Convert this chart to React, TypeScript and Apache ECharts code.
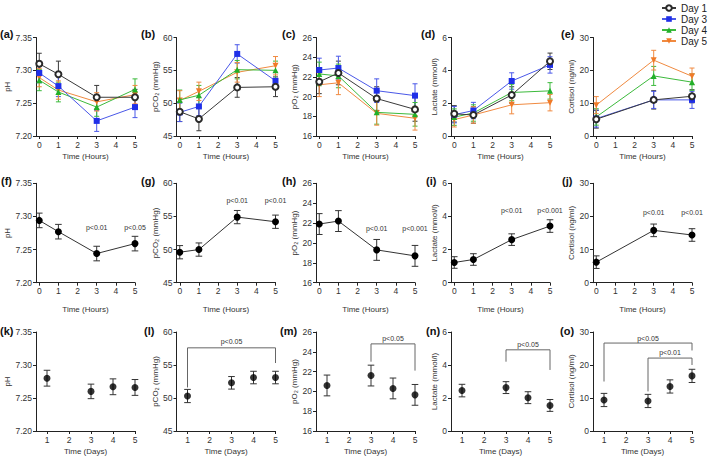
import React, { useEffect, useRef } from "react";
import * as echarts from "echarts";

// ---------- DATA ----------
const dayNames = ["Day 1", "Day 3", "Day 4", "Day 5"];
const hours = [0, 1, 3, 5];
const cortHours = [0, 3, 5];
const days = [1, 3, 4, 5];

// Row 1 (per day, by hour)
const phByDay = [
  [7.31, 7.294, 7.259, 7.259],
  [7.296, 7.276, 7.223, 7.244],
  [7.285, 7.267, 7.244, 7.271],
  [7.289, 7.27, 7.252, 7.263],
];
const phByDayErr = [
  [0.016, 0.02, 0.018, 0.012],
  [0.015, 0.016, 0.016, 0.016],
  [0.016, 0.015, 0.014, 0.016],
  [0.014, 0.014, 0.014, 0.014],
];
const pco2ByDay = [
  [48.7, 47.6, 52.4, 52.5],
  [48.6, 49.5, 57.5, 53.4],
  [50.5, 51.2, 55.1, 55.0],
  [50.4, 51.8, 54.7, 55.7],
];
const pco2ByDayErr = [
  [1.5, 1.8, 1.5, 1.5],
  [1.4, 1.4, 1.4, 1.3],
  [1.5, 1.5, 1.4, 1.4],
  [1.5, 1.4, 1.5, 1.4],
];
const po2ByDay = [
  [21.5, 22.4, 19.8, 18.7],
  [22.7, 22.9, 20.6, 20.1],
  [22.3, 22.1, 18.4, 18.2],
  [21.2, 21.4, 18.3, 17.8],
];
const po2ByDayErr = [
  [1.2, 1.2, 1.2, 1.2],
  [1.2, 1.2, 1.2, 1.2],
  [1.2, 1.2, 1.2, 1.2],
  [1.2, 1.2, 1.2, 1.2],
];
const lacByDay = [
  [1.35, 1.28, 2.5, 4.55],
  [1.3, 1.55, 3.35, 4.33],
  [1.15, 1.4, 2.65, 2.75],
  [1.0, 1.28, 1.9, 2.03],
];
const lacByDayErr = [
  [0.5, 0.5, 0.5, 0.5],
  [0.5, 0.5, 0.5, 0.5],
  [0.5, 0.5, 0.5, 0.5],
  [0.45, 0.5, 0.55, 0.5],
];
const cortByDay = [
  [5.1, 11.0, 12.1],
  [5.3, 11.0, 11.0],
  [5.8, 18.3, 16.4],
  [9.4, 23.1, 18.2],
];
const cortByDayErr = [
  [2.7, 2.8, 2.0],
  [2.6, 2.6, 2.6],
  [2.5, 2.9, 2.5],
  [2.6, 3.0, 2.5],
];

// Row 2 (pooled, by hour)
const phMean = [7.294, 7.277, 7.244, 7.259];
const phMeanErr = [0.011, 0.011, 0.011, 0.011];
const pco2Mean = [49.6, 50.0, 54.9, 54.2];
const pco2MeanErr = [1.0, 1.0, 1.0, 1.0];
const po2Mean = [21.9, 22.2, 19.3, 18.7];
const po2MeanErr = [1.05, 1.05, 1.05, 1.05];
const lacMean = [1.22, 1.4, 2.6, 3.42];
const lacMeanErr = [0.35, 0.35, 0.35, 0.38];
const cortMean = [6.2, 15.8, 14.4];
const cortMeanErr = [1.9, 1.9, 1.9];

const sigHoursX = [3, 5];
const phSig = ["p<0.01", "p<0.05"];
const pco2Sig = ["p<0.01", "p<0.01"];
const po2Sig = ["p<0.01", "p<0.001"];
const lacSig = ["p<0.01", "p<0.001"];
const cortSig = ["p<0.01", "p<0.01"];
const sigLabelY = { ph: 7.283, pco2: 57.4, po2: 21.5, lac: 4.33, cort: 21.3 };

// Row 3 (by day)
const phDays = [7.28, 7.26, 7.267, 7.266];
const phDaysErr = [0.012, 0.011, 0.012, 0.012];
const pco2Days = [50.3, 52.3, 53.1, 53.1];
const pco2DaysErr = [1.0, 0.95, 0.95, 0.95];
const po2Days = [20.6, 21.6, 20.3, 19.65];
const po2DaysErr = [1.05, 1.05, 1.05, 1.05];
const lacDays = [2.45, 2.63, 2.02, 1.55];
const lacDaysErr = [0.38, 0.36, 0.36, 0.36];
const cortDays = [9.4, 9.1, 13.5, 16.7];
const cortDaysErr = [2.0, 2.0, 2.0, 2.0];

const pco2Bracket = [[1, 51.6], [1, 57.6], [5, 57.6], [5, 55.3]];
const pco2BracketText = { x: 3, y: 58.5, text: "p<0.05" };
const po2Bracket = [[3, 23.0], [3, 24.8], [5, 24.8], [5, 22.1]];
const po2BracketText = { x: 4, y: 25.35, text: "p<0.05" };
const lacBracket = [[3, 4.2], [3, 4.92], [5, 4.92], [5, 3.7]];
const lacBracketText = { x: 4, y: 5.22, text: "p<0.05" };
const cortBracketOuter = [[1, 15.0], [1, 26.65], [5, 26.65], [5, 24.4]];
const cortBracketOuterText = { x: 3, y: 27.95, text: "p<0.05" };
const cortBracketInner = [[3, 12.0], [3, 22.1], [5, 22.1], [5, 20.0]];
const cortBracketInnerText = { x: 4, y: 23.9, text: "p<0.01" };

// ---------- STYLE ----------
const FONT = "'Liberation Sans', Arial, Helvetica, sans-serif";
const dayColors = ["#2a2a2a", "#1f2fe8", "#22b02a", "#f07a28"];
const dayLineColors = ["#3a3a3a", "#4a58e8", "#3cba3c", "#f08a40"];
const daySymbols = [
  "emptyCircle",
  "rect",
  "triangle",
  "path://M0,0 L10,0 L5,9 Z",
];
const lefts = [36, 176.5, 316, 451, 593];
const rowTop = [37.5, 183.3, 332];
const rowH = [98.5, 99.4, 99];
const W = 99;

type YSpec = { min: number; max: number; interval: number; dec: number; name: string; gap: number };
const ySpecs: Record<string, YSpec> = {
  ph: { min: 7.2, max: 7.35, interval: 0.05, dec: 2, name: "pH", gap: 22 },
  pco2: { min: 45, max: 60, interval: 5, dec: 0, name: "pCO₂ (mmHg)", gap: 16 },
  po2: { min: 16, max: 26, interval: 2, dec: 0, name: "pO₂ (mmHg)", gap: 16 },
  lac: { min: 0, max: 6, interval: 2, dec: 0, name: "Lactate (mmol/l)", gap: 13 },
  cort: { min: 0, max: 30, interval: 10, dec: 0, name: "Cortisol (ng/ml)", gap: 15 },
};

type Annot =
  | { kind: "text"; idx: number; x: number; y: number; text: string }
  | { kind: "poly"; idx: number; pts: number[][] };

function errSeries(idx: number, xs: number[], ys: number[], es: number[], color: string, cap: number) {
  return {
    type: "custom",
    xAxisIndex: idx,
    yAxisIndex: idx,
    z: 1,
    silent: true,
    itemStyle: { color },
    data: xs.map((x, i) => [x, ys[i] - es[i], ys[i] + es[i]]),
    encode: { x: 0, y: [1, 2] },
    renderItem: (_p: any, api: any) => {
      const x = api.value(0);
      const a = api.coord([x, api.value(1)]);
      const b = api.coord([x, api.value(2)]);
      const st = { stroke: color, lineWidth: 1 };
      return {
        type: "group",
        children: [
          { type: "line", shape: { x1: a[0], y1: a[1], x2: b[0], y2: b[1] }, style: st },
          { type: "line", shape: { x1: a[0] - cap, y1: a[1], x2: a[0] + cap, y2: a[1] }, style: st },
          { type: "line", shape: { x1: b[0] - cap, y1: b[1], x2: b[0] + cap, y2: b[1] }, style: st },
        ],
      };
    },
  };
}

function buildOption(annots: Annot[]) {
  const grid: any[] = [];
  const xAxis: any[] = [];
  const yAxis: any[] = [];
  const series: any[] = [];

  const addPanel = (row: number, col: number, yKey: string) => {
    const idx = grid.length;
    const isDays = row === 2;
    const ys = ySpecs[yKey];
    grid.push({ left: lefts[col], top: rowTop[row], width: W, height: rowH[row] });
    const ticks = isDays ? [1, 2, 3, 4, 5] : [0, 1, 2, 3, 4, 5];
    xAxis.push({
      type: "value",
      gridIndex: idx,
      min: isDays ? 0.5 : -0.17,
      max: 5,
      name: isDays ? "Time (Days)" : "Time (Hours)",
      nameLocation: "middle",
      nameGap: row === 1 ? 23 : 16,
      nameTextStyle: { fontFamily: FONT, fontSize: 8, color: "#333" },
      axisLine: { onZero: false, lineStyle: { color: "#222", width: 1 } },
      axisTick: { show: true, length: 3, customValues: ticks, lineStyle: { color: "#222" } },
      axisLabel: {
        customValues: ticks,
        fontFamily: FONT,
        fontSize: 8.5,
        color: "#333",
        margin: 4,
      },
      splitLine: { show: false },
    });
    yAxis.push({
      type: "value",
      gridIndex: idx,
      min: ys.min,
      max: ys.max,
      interval: ys.interval,
      name: ys.name,
      nameLocation: "middle",
      nameRotate: 90,
      nameGap: ys.gap,
      nameTextStyle: { fontFamily: FONT, fontSize: 8, color: "#333" },
      axisLine: { show: true, onZero: false, lineStyle: { color: "#222", width: 1 } },
      axisTick: { show: true, length: 3, lineStyle: { color: "#222" } },
      axisLabel: {
        fontFamily: FONT,
        fontSize: 8.5,
        color: "#333",
        margin: 4,
        formatter: (v: number) => v.toFixed(ys.dec),
      },
      splitLine: { show: false },
    });
    return idx;
  };

  // Row 1
  const row1: [string, number[][], number[][], number[]][] = [
    ["ph", phByDay, phByDayErr, hours],
    ["pco2", pco2ByDay, pco2ByDayErr, hours],
    ["po2", po2ByDay, po2ByDayErr, hours],
    ["lac", lacByDay, lacByDayErr, hours],
    ["cort", cortByDay, cortByDayErr, cortHours],
  ];
  row1.forEach(([key, vals, errs, xs], col) => {
    const idx = addPanel(0, col, key);
    vals.forEach((v, d) => {
      series.push(errSeries(idx, xs, v, errs[d], dayLineColors[d], 2.5));
    });
    [3, 2, 1, 0].forEach((d) => {
      series.push({
        type: "line",
        name: dayNames[d],
        xAxisIndex: idx,
        yAxisIndex: idx,
        data: xs.map((x, i) => [x, vals[d][i]]),
        symbol: daySymbols[d],
        symbolSize: 6,
        showSymbol: true,
        clip: false,
        z: 2 + (3 - d) * 0.1,
        lineStyle: { color: dayLineColors[d], width: 1 },
        itemStyle: {
          color: dayColors[d],
          borderColor: dayColors[d],
          borderWidth: d === 0 ? 1.1 : 0,
        },
      });
    });
  });

  // Row 2
  const row2: [string, number[], number[], number[], string[], number][] = [
    ["ph", phMean, phMeanErr, hours, phSig, sigLabelY.ph],
    ["pco2", pco2Mean, pco2MeanErr, hours, pco2Sig, sigLabelY.pco2],
    ["po2", po2Mean, po2MeanErr, hours, po2Sig, sigLabelY.po2],
    ["lac", lacMean, lacMeanErr, hours, lacSig, sigLabelY.lac],
    ["cort", cortMean, cortMeanErr, cortHours, cortSig, sigLabelY.cort],
  ];
  row2.forEach(([key, vals, errs, xs, sig, sy], col) => {
    const idx = addPanel(1, col, key);
    series.push(errSeries(idx, xs, vals, errs, "#333", 3.3));
    series.push({
      type: "line",
      xAxisIndex: idx,
      yAxisIndex: idx,
      data: xs.map((x, i) => [x, vals[i]]),
      symbol: "circle",
      symbolSize: 7,
      clip: false,
      z: 2,
      lineStyle: { color: "#333", width: 1 },
      itemStyle: { color: "#000" },
    });
    sigHoursX.forEach((x, i) => annots.push({ kind: "text", idx, x, y: sy, text: sig[i] }));
  });

  // Row 3
  const row3: [string, number[], number[]][] = [
    ["ph", phDays, phDaysErr],
    ["pco2", pco2Days, pco2DaysErr],
    ["po2", po2Days, po2DaysErr],
    ["lac", lacDays, lacDaysErr],
    ["cort", cortDays, cortDaysErr],
  ];
  const idx3: number[] = [];
  row3.forEach(([key, vals, errs], col) => {
    const idx = addPanel(2, col, key);
    idx3.push(idx);
    series.push(errSeries(idx, days, vals, errs, "#333", 3.3));
    series.push({
      type: "scatter",
      xAxisIndex: idx,
      yAxisIndex: idx,
      data: days.map((x, i) => [x, vals[i]]),
      symbol: "circle",
      symbolSize: 7,
      z: 2,
      itemStyle: { color: "#000" },
    });
  });
  const brackets: [number, number[][], { x: number; y: number; text: string }][] = [
    [idx3[1], pco2Bracket, pco2BracketText],
    [idx3[2], po2Bracket, po2BracketText],
    [idx3[3], lacBracket, lacBracketText],
    [idx3[4], cortBracketOuter, cortBracketOuterText],
    [idx3[4], cortBracketInner, cortBracketInnerText],
  ];
  brackets.forEach(([idx, pts, t]) => {
    annots.push({ kind: "poly", idx, pts });
    annots.push({ kind: "text", idx, x: t.x, y: t.y, text: t.text });
  });

  return {
    animation: false,
    backgroundColor: "#ffffff",
    grid,
    xAxis,
    yAxis,
    series,
    legend: {
      data: dayNames,
      orient: "vertical",
      left: 661,
      top: 2.5,
      padding: 0,
      itemWidth: 14,
      itemHeight: 7,
      itemGap: 0,
      selectedMode: false,
      textStyle: { fontFamily: FONT, fontSize: 10, color: "#222", lineHeight: 11 },
    },
  };
}

const letters = [
  ["(a)", 0, 28], ["(b)", 141, 28], ["(c)", 282, 28], ["(d)", 421, 28], ["(e)", 561, 28],
  ["(f)", 1, 175.5], ["(g)", 141, 175.5], ["(h)", 282, 175.5], ["(i)", 426, 175.5], ["(j)", 562, 175.5],
  ["(k)", 0, 325.5], ["(l)", 144, 325.5], ["(m)", 280, 325.5], ["(n)", 426, 325.5], ["(o)", 560, 325.5],
] as [string, number, number][];

export default function App() {
  const ref = useRef<HTMLDivElement>(null);
  useEffect(() => {
    document.body.style.margin = "0";
    const chart = echarts.init(ref.current as HTMLDivElement, null, { renderer: "svg" });
    const annots: Annot[] = [];
    chart.setOption(buildOption(annots) as any);
    const px = (idx: number, p: number[]) =>
      chart.convertToPixel({ xAxisIndex: idx, yAxisIndex: idx } as any, p) as number[];
    const graphics: any[] = letters.map(([t, x, y]) => ({
      type: "text",
      left: x,
      top: y,
      style: { text: t, fontFamily: FONT, fontSize: 11, fontWeight: "bold", fill: "#111" },
    }));
    annots.forEach((a) => {
      if (a.kind === "text") {
        const c = px(a.idx, [a.x, a.y]);
        graphics.push({
          type: "text",
          x: c[0],
          y: c[1],
          z: 10,
          style: {
            text: a.text,
            fontFamily: FONT,
            fontSize: 7,
            fill: "#333",
            align: "center",
            verticalAlign: "middle",
          },
        });
      } else {
        graphics.push({
          type: "polyline",
          z: 10,
          shape: { points: a.pts.map((q) => px(a.idx, q)) },
          style: { stroke: "#666", lineWidth: 1, fill: null },
        });
      }
    });
    chart.setOption({ graphic: graphics });
    return () => chart.dispose();
  }, []);
  return <div ref={ref} style={{ width: 709, height: 458 }} />;
}
